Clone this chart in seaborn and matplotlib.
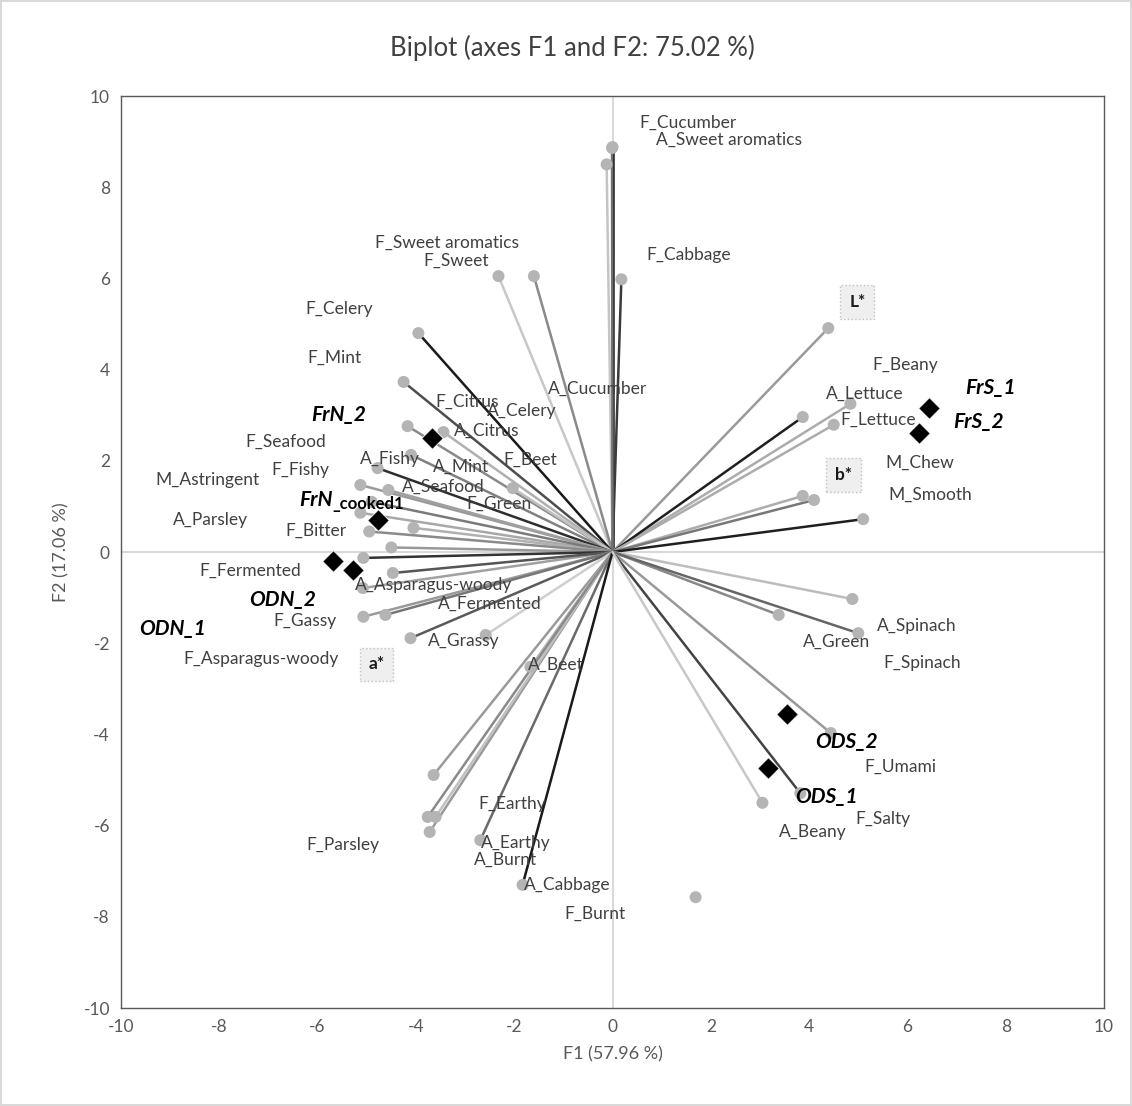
import numpy as np
import pandas as pd
import seaborn as sns
import matplotlib.pyplot as plt

# variables (vector ends on F1/F2)
var_names = ['F_Cucumber', 'A_Sweet aromatics', 'F_Cabbage', 'F_Sweet aromatics', 'F_Sweet',
             'A_Cucumber', 'F_Celery', 'F_Mint', 'F_Seafood', 'A_Citrus', 'F_Citrus', 'A_Celery',
             'F_Beet', 'A_Mint', 'A_Fishy', 'F_Fishy', 'M_Astringent', 'A_Seafood', 'F_Green',
             'A_Parsley', 'F_Bitter', 'F_Fermented', 'A_Asparagus-woody', 'a*', 'F_Gassy',
             'A_Fermented', 'A_Grassy', 'F_Asparagus-woody', 'A_Beet', 'F_Parsley', 'F_Earthy',
             'A_Earthy', 'A_Burnt', 'A_Cabbage', 'F_Burnt',
             'L*', 'F_Beany', 'A_Lettuce', 'F_Lettuce', 'M_Chew', 'b*', 'M_Smooth',
             'A_Spinach', 'A_Green', 'F_Spinach', 'F_Umami', 'F_Salty', 'A_Beany']
var_f1 = [0.0, -0.12, 0.18, -2.32, -1.6,
          -0.01, -3.95, -4.25, -4.17, -3.44, -4.1, -3.64,
          -2.03, -4.78, -5.13, -4.56, -5.13, -4.9, -4.05,
          -4.95, -4.5, -5.07, -5.08, -4.47, -5.07,
          -4.62, -4.11, -2.58, -1.67, -3.72, -3.6,
          -2.69, -3.76, -1.83, 1.69,
          4.39, 4.84, 3.87, 4.5, 3.87, 4.1, 5.1,
          4.88, 3.38, 5.0, 4.44, 3.82, 3.05]
var_f2 = [8.88, 8.5, 5.98, 6.05, 6.05,
          8.86, 4.8, 3.73, 2.76, 2.63, 2.13, -4.89,
          1.4, 1.84, 1.47, 1.36, 0.86, 1.1, 0.53,
          0.45, 0.1, -0.13, -0.79, -0.46, -1.42,
          -1.38, -1.89, -1.82, -2.52, -6.14, -5.81,
          -6.32, -5.81, -7.3, -7.57,
          4.91, 3.25, 2.96, 2.79, 1.23, 1.14, 0.72,
          -1.03, -1.38, -1.78, -3.97, -5.29, -5.5]
var_shade = ['#1a1a1a', '#c4c4c4', '#3a3a3a', '#c8c8c8', '#8a8a8a',
             '#707070', '#1a1a1a', '#4d4d4d', '#8a8a8a', '#b0b0b0', '#808080', '#9a9a9a',
             '#c0c0c0', '#2e2e2e', '#9a9a9a', '#a0a0a0', '#a8a8a8', '#7a7a7a', '#b0b0b0',
             '#8a8a8a', '#999999', '#333333', '#a0a0a0', '#555555', '#9a9a9a',
             '#777777', '#5a5a5a', '#cfcfcf', '#bdbdbd', '#9a9a9a', '#c0c0c0',
             '#6a6a6a', '#8a8a8a', '#1a1a1a', '#ffffff',
             '#9a9a9a', '#acacac', '#1f1f1f', '#acacac', '#acacac', '#777777', '#1f1f1f',
             '#bdbdbd', '#888888', '#666666', '#999999', '#444444', '#c8c8c8']
# where each variable label sits
lab_f1 = [1.53, 2.36, 1.55, -3.36, -3.19,
          -0.3, -5.57, -5.66, -6.65, -2.56, -2.95, -1.85,
          -1.67, -3.09, -4.52, -6.35, -8.24, -3.45, -2.3,
          -8.18, -6.04, -7.37, -3.64, -4.8, -6.25,
          -2.5, -3.03, -7.16, -1.16, -5.49, -2.05,
          -1.97, -2.18, -0.92, -0.35,
          4.98, 5.96, 5.13, 5.41, 6.25, 4.7, 6.47,
          6.19, 4.56, 6.31, 5.86, 5.51, 4.07]
lab_f2 = [9.41, 9.04, 6.51, 6.78, 6.38,
          3.57, 5.33, 4.25, 2.41, 2.65, 3.3, 3.1,
          2.02, 1.86, 2.04, 1.8, 1.58, 1.42, 1.05,
          0.7, 0.46, -0.42, -0.72, -2.46, -1.51,
          -1.14, -1.95, -2.35, -2.48, -6.43, -5.53,
          -6.38, -6.75, -7.3, -7.94,
          5.48, 4.1, 3.46, 2.89, 1.95, 1.69, 1.25,
          -1.62, -1.97, -2.43, -4.71, -5.86, -6.14]

# observations
obs_names = ['FrS_1', 'FrS_2', 'FrN_2', 'FrN_cooked1', 'ODN_1', 'ODN_2', 'ODS_1', 'ODS_2']
obs_f1 = [6.43, 6.23, -3.68, -4.78, -5.68, -5.27, 3.17, 3.54]
obs_f2 = [3.16, 2.61, 2.5, 0.7, -0.2, -0.39, -4.74, -3.55]
obs_lab_f1 = [7.69, 7.45, -5.57, -5.70, -8.95, -6.71, 4.35, 4.76]
obs_lab_f2 = [3.6, 2.85, 3.0, 1.14, -1.69, -1.05, -5.37, -4.17]

var_df = pd.DataFrame({'name': var_names, 'F1': var_f1, 'F2': var_f2, 'shade': var_shade})
obs_df = pd.DataFrame({'name': obs_names, 'F1': obs_f1, 'F2': obs_f2})

sns.set_style('white')
plt.rcParams['font.family'] = ['Lato', 'DejaVu Sans']
plt.rcParams['axes.unicode_minus'] = False

fig = plt.figure(figsize=(11.32, 11.06), dpi=100)
fig.patch.set_edgecolor('#d9d9d9')
fig.patch.set_linewidth(1.5)
ax = fig.add_axes([0.1069, 0.0886, 0.8684, 0.8246])

ax.axhline(0, color='#d9d9d9', lw=1.5, zorder=0)
ax.axvline(0, color='#d9d9d9', lw=1.5, zorder=0)

# vectors from origin
for _, r in var_df.iterrows():
    if r['shade'] == '#ffffff':
        continue
    ax.plot([0, r['F1']], [0, r['F2']], color=r['shade'], lw=1.8, zorder=1)

sns.scatterplot(data=var_df, x='F1', y='F2', color='#b4b4b4', s=75, edgecolor='none',
                ax=ax, zorder=2)
sns.scatterplot(data=obs_df, x='F1', y='F2', color='black', marker='D', s=120,
                edgecolor='white', linewidth=0.6, ax=ax, zorder=3)

grey_txt = '#404040'
for name, x, y in zip(var_names, lab_f1, lab_f2):
    if name in ('L*', 'a*', 'b*'):
        ax.text(x, y, name, ha='center', va='center', fontsize=12.5, fontweight='bold',
                color='#1a1a1a', zorder=4,
                bbox=dict(boxstyle='square,pad=0.5', fc='#efefef', ec='#c0c0c0', ls=':', lw=1))
    else:
        ax.text(x, y, name, ha='center', va='center', fontsize=12.5, color=grey_txt, zorder=4)

for name, x, y in zip(obs_names, obs_lab_f1, obs_lab_f2):
    if name == 'FrN_cooked1':
        ax.text(x, y, 'FrN', ha='right', va='center', fontsize=15, fontweight='bold',
                fontstyle='italic', color='black', zorder=4)
        ax.text(x, y - 0.08, '_cooked1', ha='left', va='center', fontsize=12, fontweight='bold',
                color='black', zorder=4)
    else:
        ax.text(x, y, name, ha='center', va='center', fontsize=15, fontweight='bold',
                fontstyle='italic', color='black', zorder=4)

ax.set_xlim(-10, 10)
ax.set_ylim(-10, 10)
ax.set_xticks(np.arange(-10, 11, 2))
ax.set_yticks(np.arange(-10, 11, 2))
ax.tick_params(length=0, labelsize=12.5, labelcolor='#595959', pad=8)
for sp in ax.spines.values():
    sp.set_color('#595959')
    sp.set_linewidth(1)
ax.set_xlabel('F1 (57.96 %)', fontsize=13, color='#595959', labelpad=8)
ax.set_ylabel('F2 (17.06 %)', fontsize=13, color='#595959', labelpad=10)
fig.text(0.506, 0.957, 'Biplot (axes F1 and F2: 75.02 %)', ha='center', va='center',
         fontsize=18.5, color='#404040')

fig.savefig('out.png', dpi=100)
